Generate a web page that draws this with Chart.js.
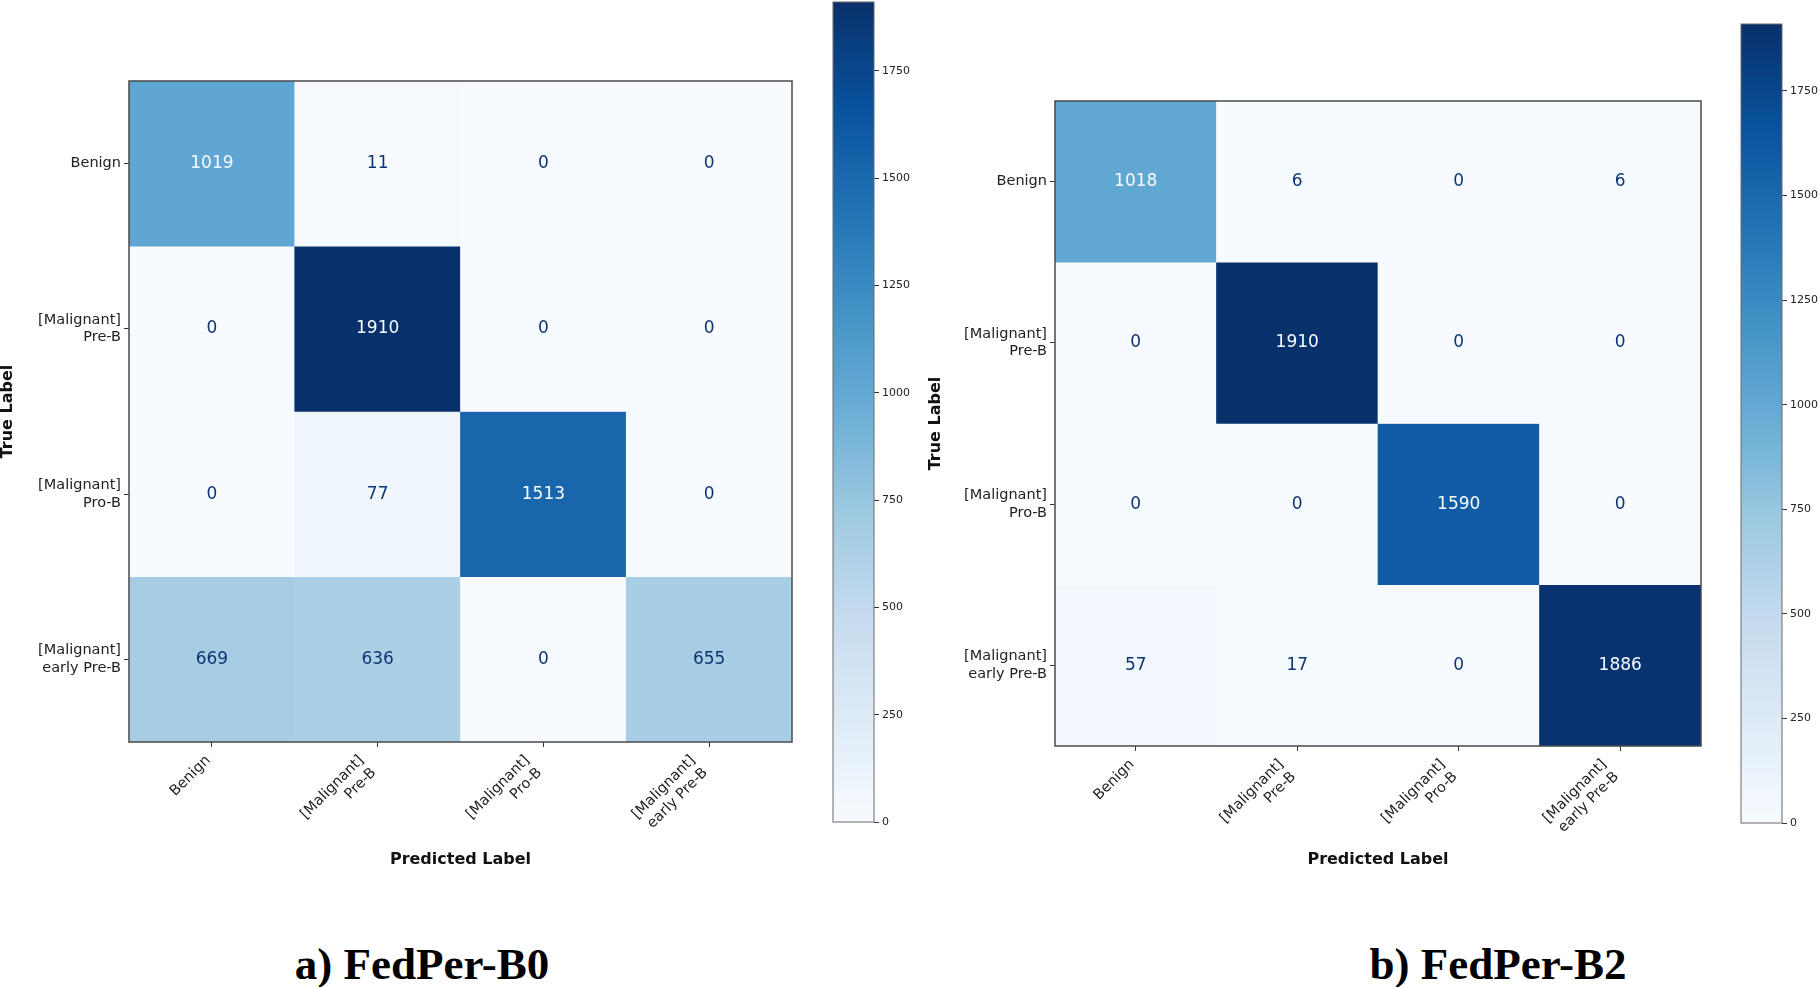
<!DOCTYPE html>
<html>
<head>
<meta charset="utf-8">
<title>FedPer confusion matrices</title>
<script src="https://cdn.jsdelivr.net/npm/chart.js@4.4.1/dist/chart.umd.min.js"></script>
<style>
  html, body { margin: 0; padding: 0; background: #fff; }
  body { width: 1820px; height: 987px; position: relative; overflow: hidden; }
  .box { position: absolute; }
  .caption {
    position: absolute;
    font-family: "Liberation Serif", "Times New Roman", serif;
    font-weight: bold;
    font-size: 45px;
    line-height: 45px;
    white-space: nowrap;
    transform: translateX(-50%);
    color: #000;
  }
</style>
</head>
<body>
<div class="box" style="left:0;top:0;width:800px;height:868px"><canvas id="matrixB0"></canvas></div>
<div class="box" style="left:825px;top:0;width:95px;height:832px"><canvas id="colorbarB0"></canvas></div>
<div class="box" style="left:928px;top:0;width:781px;height:868px"><canvas id="matrixB2"></canvas></div>
<div class="box" style="left:1733px;top:0;width:87px;height:833px"><canvas id="colorbarB2"></canvas></div>
<div class="caption" style="left:422px;top:942px">a) FedPer-B0</div>
<div class="caption" style="left:1498px;top:942px">b) FedPer-B2</div>

<script>
// class names (rows = true label, columns = predicted label)
const classLabels = [
  "Benign",
  ["[Malignant]", "Pre-B"],
  ["[Malignant]", "Pro-B"],
  ["[Malignant]", "early Pre-B"]
];

// confusion matrix values, one array per true label
const cmFedPerB0 = [
  [1019, 11, 0, 0],
  [0, 1910, 0, 0],
  [0, 77, 1513, 0],
  [669, 636, 0, 655]
];
const cmFedPerB2 = [
  [1018, 6, 0, 6],
  [0, 1910, 0, 0],
  [0, 0, 1590, 0],
  [57, 17, 0, 1886]
];

// colorbar tick values
const colorbarTicks = [0, 250, 500, 750, 1000, 1250, 1500, 1750];

// matplotlib "Blues"
const bluesStops = ["#f7fbff", "#deebf7", "#c6dbef", "#9ecae1", "#6baed6",
                    "#4292c6", "#2171b5", "#08519c", "#08306b"];
const textDark = "#0d3574";
const textLight = "#f7fbff";
const tickFont = { family: "DejaVu Sans", size: 14.5 };
const titleFont = { family: "DejaVu Sans", size: 16, weight: "bold", lineHeight: 1 };

function hexToRgb(h) {
  return [1, 3, 5].map((i) => parseInt(h.substr(i, 2), 16));
}

function blues(t) {
  t = Math.min(Math.max(t, 0), 1);
  const pos = t * (bluesStops.length - 1);
  const i = Math.min(Math.floor(pos), bluesStops.length - 2);
  const f = pos - i;
  const a = hexToRgb(bluesStops[i]);
  const b = hexToRgb(bluesStops[i + 1]);
  const c = a.map((v, k) => Math.round(v + (b[k] - v) * f));
  return `rgb(${c[0]},${c[1]},${c[2]})`;
}

// numbers drawn in the middle of each cell
const cellText = {
  id: "cellText",
  afterDatasetsDraw(chart, args, opts) {
    if (!opts.cm) return;
    const flat = opts.cm.flat();
    const thresh = (Math.max(...flat) + Math.min(...flat)) / 2;
    const ctx = chart.ctx;
    ctx.save();
    ctx.font = '17px "DejaVu Sans"';
    ctx.textAlign = "center";
    ctx.textBaseline = "middle";
    chart.data.datasets.forEach((ds, r) => {
      chart.getDatasetMeta(r).data.forEach((bar, c) => {
        const v = opts.cm[r][c];
        ctx.fillStyle = v < thresh ? textDark : textLight;
        ctx.fillText(String(v), bar.x, (bar.y + bar.base) / 2);
      });
    });
    ctx.restore();
  }
};

// rotated x tick labels, anchored like matplotlib (ha="right", rotation=45)
const xTickLabels = {
  id: "xTickLabels",
  afterDraw(chart) {
    const scale = chart.scales.x;
    const ctx = chart.ctx;
    const lh = tickFont.size * 1.2;
    const k = Math.SQRT1_2;
    ctx.save();
    ctx.font = `${tickFont.size}px "${tickFont.family}"`;
    ctx.fillStyle = "#222";
    ctx.textAlign = "right";
    ctx.textBaseline = "middle";
    chart.data.labels.forEach((label, idx) => {
      const lines = [].concat(label);
      const n = lines.length;
      const tx = scale.getPixelForTick(idx);
      lines.forEach((line, i) => {
        const x = tx - (n - i - 0.5) * lh * k + 2.5;
        const y = scale.top + 10 + (i + 0.5) * lh * k;
        ctx.save();
        ctx.translate(x, y);
        ctx.rotate(-Math.PI / 4);
        ctx.fillText(line, 0, 0);
        ctx.restore();
      });
    });
    ctx.restore();
  }
};

// axes frame (spines)
const frame = {
  id: "frame",
  afterDraw(chart, args, opts) {
    const { left, top, right, bottom } = chart.chartArea;
    const ctx = chart.ctx;
    ctx.save();
    ctx.strokeStyle = opts.color || "#444";
    ctx.lineWidth = opts.width || 1;
    ctx.strokeRect(left, top, right - left, bottom - top);
    ctx.restore();
  }
};

function makeMatrix(id, cm, yWidth, xHeight, padTop) {
  const vmax = Math.max(...cm.flat());
  const datasets = cm.map((row, r) => ({
    data: row.map(() => [r, r + 1]),
    backgroundColor: row.map((v) => blues(v / vmax)),
    borderWidth: 0,
    grouped: false,
    categoryPercentage: 1,
    barPercentage: 1
  }));

  return new Chart(document.getElementById(id), {
    type: "bar",
    data: { labels: classLabels, datasets },
    plugins: [cellText, frame, xTickLabels],
    options: {
      animation: false,
      responsive: true,
      maintainAspectRatio: false,
      layout: { padding: { left: 0, top: padTop, right: 8, bottom: 0 } },
      plugins: {
        legend: { display: false },
        tooltip: { enabled: false },
        cellText: { cm },
        frame: { color: "#4a4a4a", width: 1.5 }
      },
      scales: {
        x: {
          grid: { offset: false, drawOnChartArea: false, tickLength: 5, color: "#333" },
          border: { display: false },
          ticks: { display: false, autoSkip: false },
          title: { display: true, text: "Predicted Label", font: titleFont, color: "#111", padding: 0 },
          afterFit(scale) {
            scale.height = xHeight;
            scale.paddingLeft = 0;
            scale.paddingRight = 0;
          }
        },
        y: {
          type: "linear",
          min: 0,
          max: classLabels.length,
          reverse: true,
          afterBuildTicks(scale) {
            scale.ticks = classLabels.map((_, i) => ({ value: i + 0.5 }));
          },
          grid: { drawOnChartArea: false, tickLength: 5, color: "#333" },
          border: { display: false },
          ticks: {
            font: tickFont, color: "#222", padding: 3,
            callback: (v) => classLabels[Math.floor(v)]
          },
          title: { display: true, text: "True Label", font: titleFont, color: "#111", padding: 0 },
          afterFit(scale) {
            scale.width = yWidth;
            scale.paddingTop = 0;
            scale.paddingBottom = 0;
          }
        }
      }
    }
  });
}

function makeColorbar(id, cm, padTop, axisWidth) {
  const vmax = Math.max(...cm.flat());
  return new Chart(document.getElementById(id), {
    type: "bar",
    data: {
      labels: [""],
      datasets: [{
        data: [[0, vmax]],
        borderWidth: 0,
        categoryPercentage: 1,
        barPercentage: 1,
        backgroundColor(ctx) {
          const chart = ctx.chart;
          if (!chart.chartArea) return bluesStops[0];
          const y = chart.scales.y;
          const g = chart.ctx.createLinearGradient(0, y.getPixelForValue(0), 0, y.getPixelForValue(vmax));
          bluesStops.forEach((c, i) => g.addColorStop(i / (bluesStops.length - 1), c));
          return g;
        }
      }]
    },
    plugins: [frame],
    options: {
      animation: false,
      responsive: true,
      maintainAspectRatio: false,
      layout: { padding: { left: 8, top: padTop, right: 0, bottom: 10 } },
      plugins: {
        legend: { display: false },
        tooltip: { enabled: false },
        frame: { color: "#6a6a6a", width: 1 }
      },
      scales: {
        x: { display: false },
        y: {
          position: "right",
          min: 0,
          max: vmax,
          afterBuildTicks(scale) {
            scale.ticks = colorbarTicks.map((v) => ({ value: v }));
          },
          grid: { drawOnChartArea: false, tickLength: 5, color: "#333" },
          border: { display: false },
          ticks: {
            font: { family: "DejaVu Sans", size: 11 }, color: "#222", padding: 3,
            callback: (v) => String(v)
          },
          afterFit(scale) {
            scale.width = axisWidth;
            scale.paddingTop = 0;
            scale.paddingBottom = 0;
          }
        }
      }
    }
  });
}

makeMatrix("matrixB0", cmFedPerB0, 129, 126, 81);
makeColorbar("colorbarB0", cmFedPerB0, 2, 46);
makeMatrix("matrixB2", cmFedPerB2, 127, 122, 101);
makeColorbar("colorbarB2", cmFedPerB2, 24, 38);
</script>
</body>
</html>
